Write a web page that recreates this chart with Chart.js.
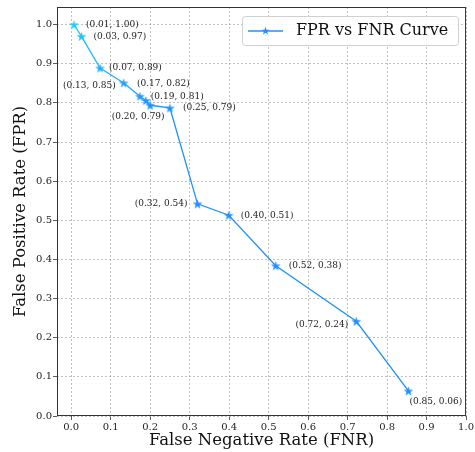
<!DOCTYPE html>
<html>
<head>
<meta charset="utf-8">
<style>
  html, body { margin: 0; padding: 0; background: #fff; }
</style>
<script src="https://cdn.jsdelivr.net/npm/chart.js@4.4.1/dist/chart.umd.min.js"></script>
</head>
<body>
<canvas id="chart" width="475" height="452"></canvas>
<script>
// values
const fnr = [0.007, 0.026, 0.073, 0.133, 0.174, 0.189, 0.200, 0.250, 0.320, 0.399, 0.518, 0.722, 0.854];
const fpr = [1.000, 0.970, 0.889, 0.851, 0.817, 0.806, 0.794, 0.787, 0.542, 0.513, 0.384, 0.242, 0.064];
const xTicks = [0, 0.1, 0.2, 0.3, 0.4, 0.5, 0.6, 0.7, 0.8, 0.9, 1.0];
const yTicks = [0, 0.1, 0.2, 0.3, 0.4, 0.5, 0.6, 0.7, 0.8, 0.9, 1.0];
const seriesName = 'FPR vs FNR Curve';
const xTitle = 'False Negative Rate (FNR)';
const yTitle = 'False Positive Rate (FPR)';

// label placement: [dx, dy, align]
const labelPos = [
  [12, 0, 'left'], [12, 0, 'left'], [9, 0, 'left'], [-8, 3, 'right'],
  [-3, -13, 'left'], [5, -4, 'left'], [-12, 11, 'center'], [13, 0, 'left'],
  [-10, 0, 'right'], [12, 0, 'left'], [13, 0, 'left'], [-8, 3, 'right'],
  [1, 11, 'left']
];

const FONT = '"DejaVu Serif", "Liberation Serif", serif';
Chart.defaults.font.family = FONT;
Chart.defaults.color = '#222';

function colorAt(y) {
  let t = (1.0 - y) / 0.22;
  t = Math.max(0, Math.min(1, t));
  const a = [34, 204, 255], b = [30, 144, 255];
  const c = a.map((v, i) => Math.round(v + (b[i] - v) * t));
  return `rgb(${c[0]},${c[1]},${c[2]})`;
}

function starPath(ctx, cx, cy, r) {
  const ri = r * 0.382;
  ctx.beginPath();
  for (let i = 0; i < 10; i++) {
    const rr = i % 2 === 0 ? r : ri;
    const a = -Math.PI / 2 + i * Math.PI / 5;
    const px = cx + rr * Math.cos(a), py = cy + rr * Math.sin(a);
    if (i === 0) ctx.moveTo(px, py); else ctx.lineTo(px, py);
  }
  ctx.closePath();
}

function starImage(color) {
  const c = document.createElement('canvas');
  c.width = 11; c.height = 11;
  const g = c.getContext('2d');
  starPath(g, 5.5, 6, 4.3);
  g.fillStyle = color;
  g.fill();
  g.lineWidth = 0.6;
  g.strokeStyle = color;
  g.stroke();
  return c;
}

const stars = fpr.map(y => starImage(colorAt(y)));

const extras = {
  id: 'extras',
  afterDatasetsDraw(chart) {
    const ctx = chart.ctx;
    const a = chart.chartArea;
    ctx.save();
    // frame
    ctx.strokeStyle = '#333';
    ctx.lineWidth = 1;
    ctx.strokeRect(a.left + 0.5, a.top + 0.5, a.right - a.left - 1, a.bottom - a.top - 1);

    // point labels
    const meta = chart.getDatasetMeta(0);
    ctx.font = '9px ' + FONT;
    ctx.fillStyle = '#222';
    ctx.textBaseline = 'middle';
    meta.data.forEach((pt, i) => {
      const [dx, dy, al] = labelPos[i];
      ctx.textAlign = al;
      ctx.fillText(`(${fnr[i].toFixed(2)}, ${fpr[i].toFixed(2)})`, pt.x + dx, pt.y + dy);
    });

    // legend
    const lx = 242, ly = 16, lw = 216, lh = 29;
    ctx.beginPath();
    ctx.roundRect(lx + 0.5, ly + 0.5, lw, lh, 3);
    ctx.fillStyle = 'rgba(255,255,255,0.85)';
    ctx.fill();
    ctx.strokeStyle = '#d0d0d0';
    ctx.lineWidth = 1;
    ctx.stroke();
    ctx.beginPath();
    ctx.moveTo(248, 31);
    ctx.lineTo(283, 31);
    ctx.strokeStyle = '#1e90ff';
    ctx.lineWidth = 1.4;
    ctx.stroke();
    starPath(ctx, 265.5, 31, 4.3);
    ctx.fillStyle = '#1e90ff';
    ctx.fill();
    ctx.font = '16px ' + FONT;
    ctx.fillStyle = '#111';
    ctx.textAlign = 'left';
    ctx.fillText(seriesName, 296, 31);
    ctx.restore();
  }
};

new Chart(document.getElementById('chart'), {
  type: 'line',
  data: {
    datasets: [{
      label: seriesName,
      data: fnr.map((x, i) => ({ x: x, y: fpr[i] })),
      borderWidth: 1.3,
      borderColor: '#1e90ff',
      segment: {
        borderColor: c => colorAt((c.p0.parsed.y + c.p1.parsed.y) / 2)
      },
      pointStyle: stars,
      pointRadius: 5,
      tension: 0
    }]
  },
  options: {
    responsive: false,
    animation: false,
    devicePixelRatio: 1,
    layout: { padding: { left: 0, top: 7, right: 8, bottom: 0 } },
    plugins: { legend: { display: false }, tooltip: { enabled: false } },
    scales: {
      x: {
        type: 'linear',
        min: -0.036,
        max: 1.0,
        afterBuildTicks: s => { s.ticks = xTicks.map(v => ({ value: v })); },
        afterFit: s => { s.height = 36; },
        ticks: { callback: v => v.toFixed(1), font: { size: 10 }, color: '#222', padding: 1, maxRotation: 0 },
        grid: { color: '#b0b0b0', lineWidth: 0.8, tickLength: 4, tickColor: '#333', tickBorderDash: [], drawTicks: true },
        border: { display: false, dash: [2, 2] },
        title: { display: true, text: xTitle, font: { size: 16.5 }, color: '#111', padding: 1 }
      },
      y: {
        type: 'linear',
        min: 0,
        max: 1.045,
        afterBuildTicks: s => { s.ticks = yTicks.map(v => ({ value: v })); },
        afterFit: s => { s.width = 57; },
        ticks: { callback: v => v.toFixed(1), font: { size: 10 }, color: '#222', padding: 1 },
        grid: { color: '#b0b0b0', lineWidth: 0.8, tickLength: 4, tickColor: '#333', tickBorderDash: [], drawTicks: true },
        border: { display: false, dash: [2, 2] },
        title: { display: true, text: yTitle, font: { size: 16.5 }, color: '#111', padding: 11 }
      }
    }
  },
  plugins: [extras]
});
</script>
</body>
</html>
